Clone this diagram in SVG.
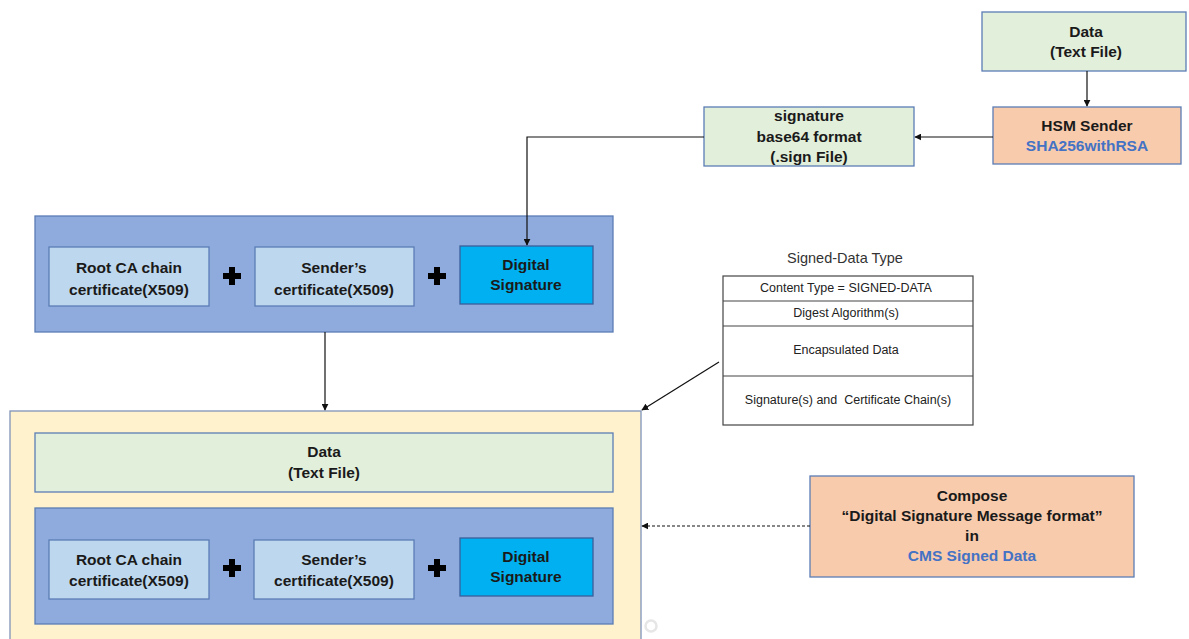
<svg xmlns="http://www.w3.org/2000/svg" width="1189" height="639" viewBox="0 0 1189 639">
<defs>
<marker id="ah" viewBox="0 0 10 10" refX="9" refY="5" markerWidth="7" markerHeight="7" orient="auto" markerUnits="userSpaceOnUse"><path d="M0,0 L10,5 L0,10 z" fill="#111"/></marker>
<style>
.t{font-family:"Liberation Sans",Arial,sans-serif;font-weight:bold;font-size:15.5px;fill:#1a1a1a;text-anchor:middle}
.b{fill:#4472c4}
.s{font-family:"Liberation Sans",Arial,sans-serif;font-size:12.5px;fill:#222;text-anchor:middle;white-space:pre}
.green{fill:#e2efda;stroke:#5b7db5;stroke-width:1.3}
.orange{fill:#f8cbad;stroke:#5b7db5;stroke-width:1.3}
.outer{fill:#8faadc;stroke:#5b7db5;stroke-width:1.3}
.light{fill:#bdd7ee;stroke:#5b7db5;stroke-width:1.3}
.ds{fill:#00b0f0;stroke:#3a5f9a;stroke-width:1.3}
.yel{fill:#fff2cc;stroke:#7f93b8;stroke-width:1.3}
.ln{stroke:#111;stroke-width:1.2;fill:none}
.plus{fill:#000}
</style>
</defs>
<rect width="1189" height="639" fill="#fff"/>

<g id="data-top">
<rect class="green" x="982" y="12" width="204" height="59"/>
<text class="t" x="1086" y="37">Data</text>
<text class="t" x="1086" y="57">(Text File)</text>
</g>

<g id="hsm-sender">
<rect class="orange" x="993" y="107" width="188" height="57"/>
<text class="t" x="1087" y="131">HSM Sender</text>
<text class="t b" x="1087" y="151">SHA256withRSA</text>
</g>

<g id="signature-file">
<rect class="green" x="704" y="107" width="210" height="59"/>
<text class="t" x="809" y="121">signature</text>
<text class="t" x="809" y="142">base64 format</text>
<text class="t" x="809" y="162">(.sign File)</text>
</g>

<g id="bundle-top">
<rect class="outer" x="35" y="216" width="578" height="116"/>
<rect class="light" x="49" y="247" width="160" height="59"/>
<text class="t" x="129" y="273">Root CA chain</text>
<text class="t" x="129" y="295">certificate(X509)</text>
<path class="plus" d="M229,267h6v6h6v6h-6v6h-6v-6h-6v-6h6z"/>
<rect class="light" x="255" y="247" width="159" height="59"/>
<text class="t" x="334" y="273">Sender’s</text>
<text class="t" x="334" y="295">certificate(X509)</text>
<path class="plus" d="M434,267h6v6h6v6h-6v6h-6v-6h-6v-6h6z"/>
<rect class="ds" x="460" y="246" width="133" height="58"/>
<text class="t" x="526" y="270">Digital</text>
<text class="t" x="526" y="290">Signature</text>
</g>

<g id="signed-data-type">
<text x="845" y="263" style="font-family:'Liberation Sans',Arial,sans-serif;font-size:14.5px;fill:#333;text-anchor:middle">Signed-Data Type</text>
<rect x="723" y="276" width="250" height="149" fill="#fff" stroke="#444" stroke-width="1.2"/>
<line x1="723" y1="301" x2="973" y2="301" stroke="#444" stroke-width="1.2"/>
<line x1="723" y1="326" x2="973" y2="326" stroke="#444" stroke-width="1.2"/>
<line x1="723" y1="376" x2="973" y2="376" stroke="#444" stroke-width="1.2"/>
<text class="s" x="846" y="292">Content Type = SIGNED-DATA</text>
<text class="s" x="846" y="317">Digest Algorithm(s)</text>
<text class="s" x="846" y="354">Encapsulated Data</text>
<text class="s" x="848" y="404" xml:space="preserve">Signature(s) and  Certificate Chain(s)</text>
</g>

<g id="cms-message">
<rect class="yel" x="10" y="411" width="631" height="235"/>
<rect class="green" x="35" y="433" width="578" height="59"/>
<text class="t" x="324" y="457">Data</text>
<text class="t" x="324" y="478">(Text File)</text>
<rect class="outer" x="35" y="508" width="578" height="116"/>
<rect class="light" x="49" y="540" width="160" height="59"/>
<text class="t" x="129" y="565">Root CA chain</text>
<text class="t" x="129" y="586">certificate(X509)</text>
<path class="plus" d="M229,559h6v6h6v6h-6v6h-6v-6h-6v-6h6z"/>
<rect class="light" x="254" y="540" width="160" height="59"/>
<text class="t" x="334" y="565">Sender’s</text>
<text class="t" x="334" y="586">certificate(X509)</text>
<path class="plus" d="M434,559h6v6h6v6h-6v6h-6v-6h-6v-6h6z"/>
<rect class="ds" x="460" y="538" width="133" height="58"/>
<text class="t" x="526" y="562">Digital</text>
<text class="t" x="526" y="582">Signature</text>
</g>

<g id="compose">
<rect class="orange" x="810" y="476" width="324" height="101"/>
<text class="t" x="972" y="501">Compose</text>
<text class="t" x="972" y="521">“Digital Signature Message format”</text>
<text class="t" x="972" y="541">in</text>
<text class="t b" x="972" y="561">CMS Signed Data</text>
</g>

<g id="connectors">
<line class="ln" x1="1087" y1="71" x2="1087" y2="106" marker-end="url(#ah)"/>
<line class="ln" x1="993" y1="137" x2="915" y2="137" marker-end="url(#ah)"/>
<polyline class="ln" points="704,137 527,137 527,245" marker-end="url(#ah)"/>
<line class="ln" x1="325" y1="332" x2="325" y2="410" marker-end="url(#ah)"/>
<line class="ln" x1="719" y1="362" x2="642" y2="410" marker-end="url(#ah)"/>
<line class="ln" x1="810" y1="526" x2="642" y2="526" stroke-dasharray="3,2" marker-end="url(#ah)"/>
</g>

<circle cx="651" cy="626" r="5.5" fill="none" stroke="#e6e6e6" stroke-width="2.5"/>
</svg>
